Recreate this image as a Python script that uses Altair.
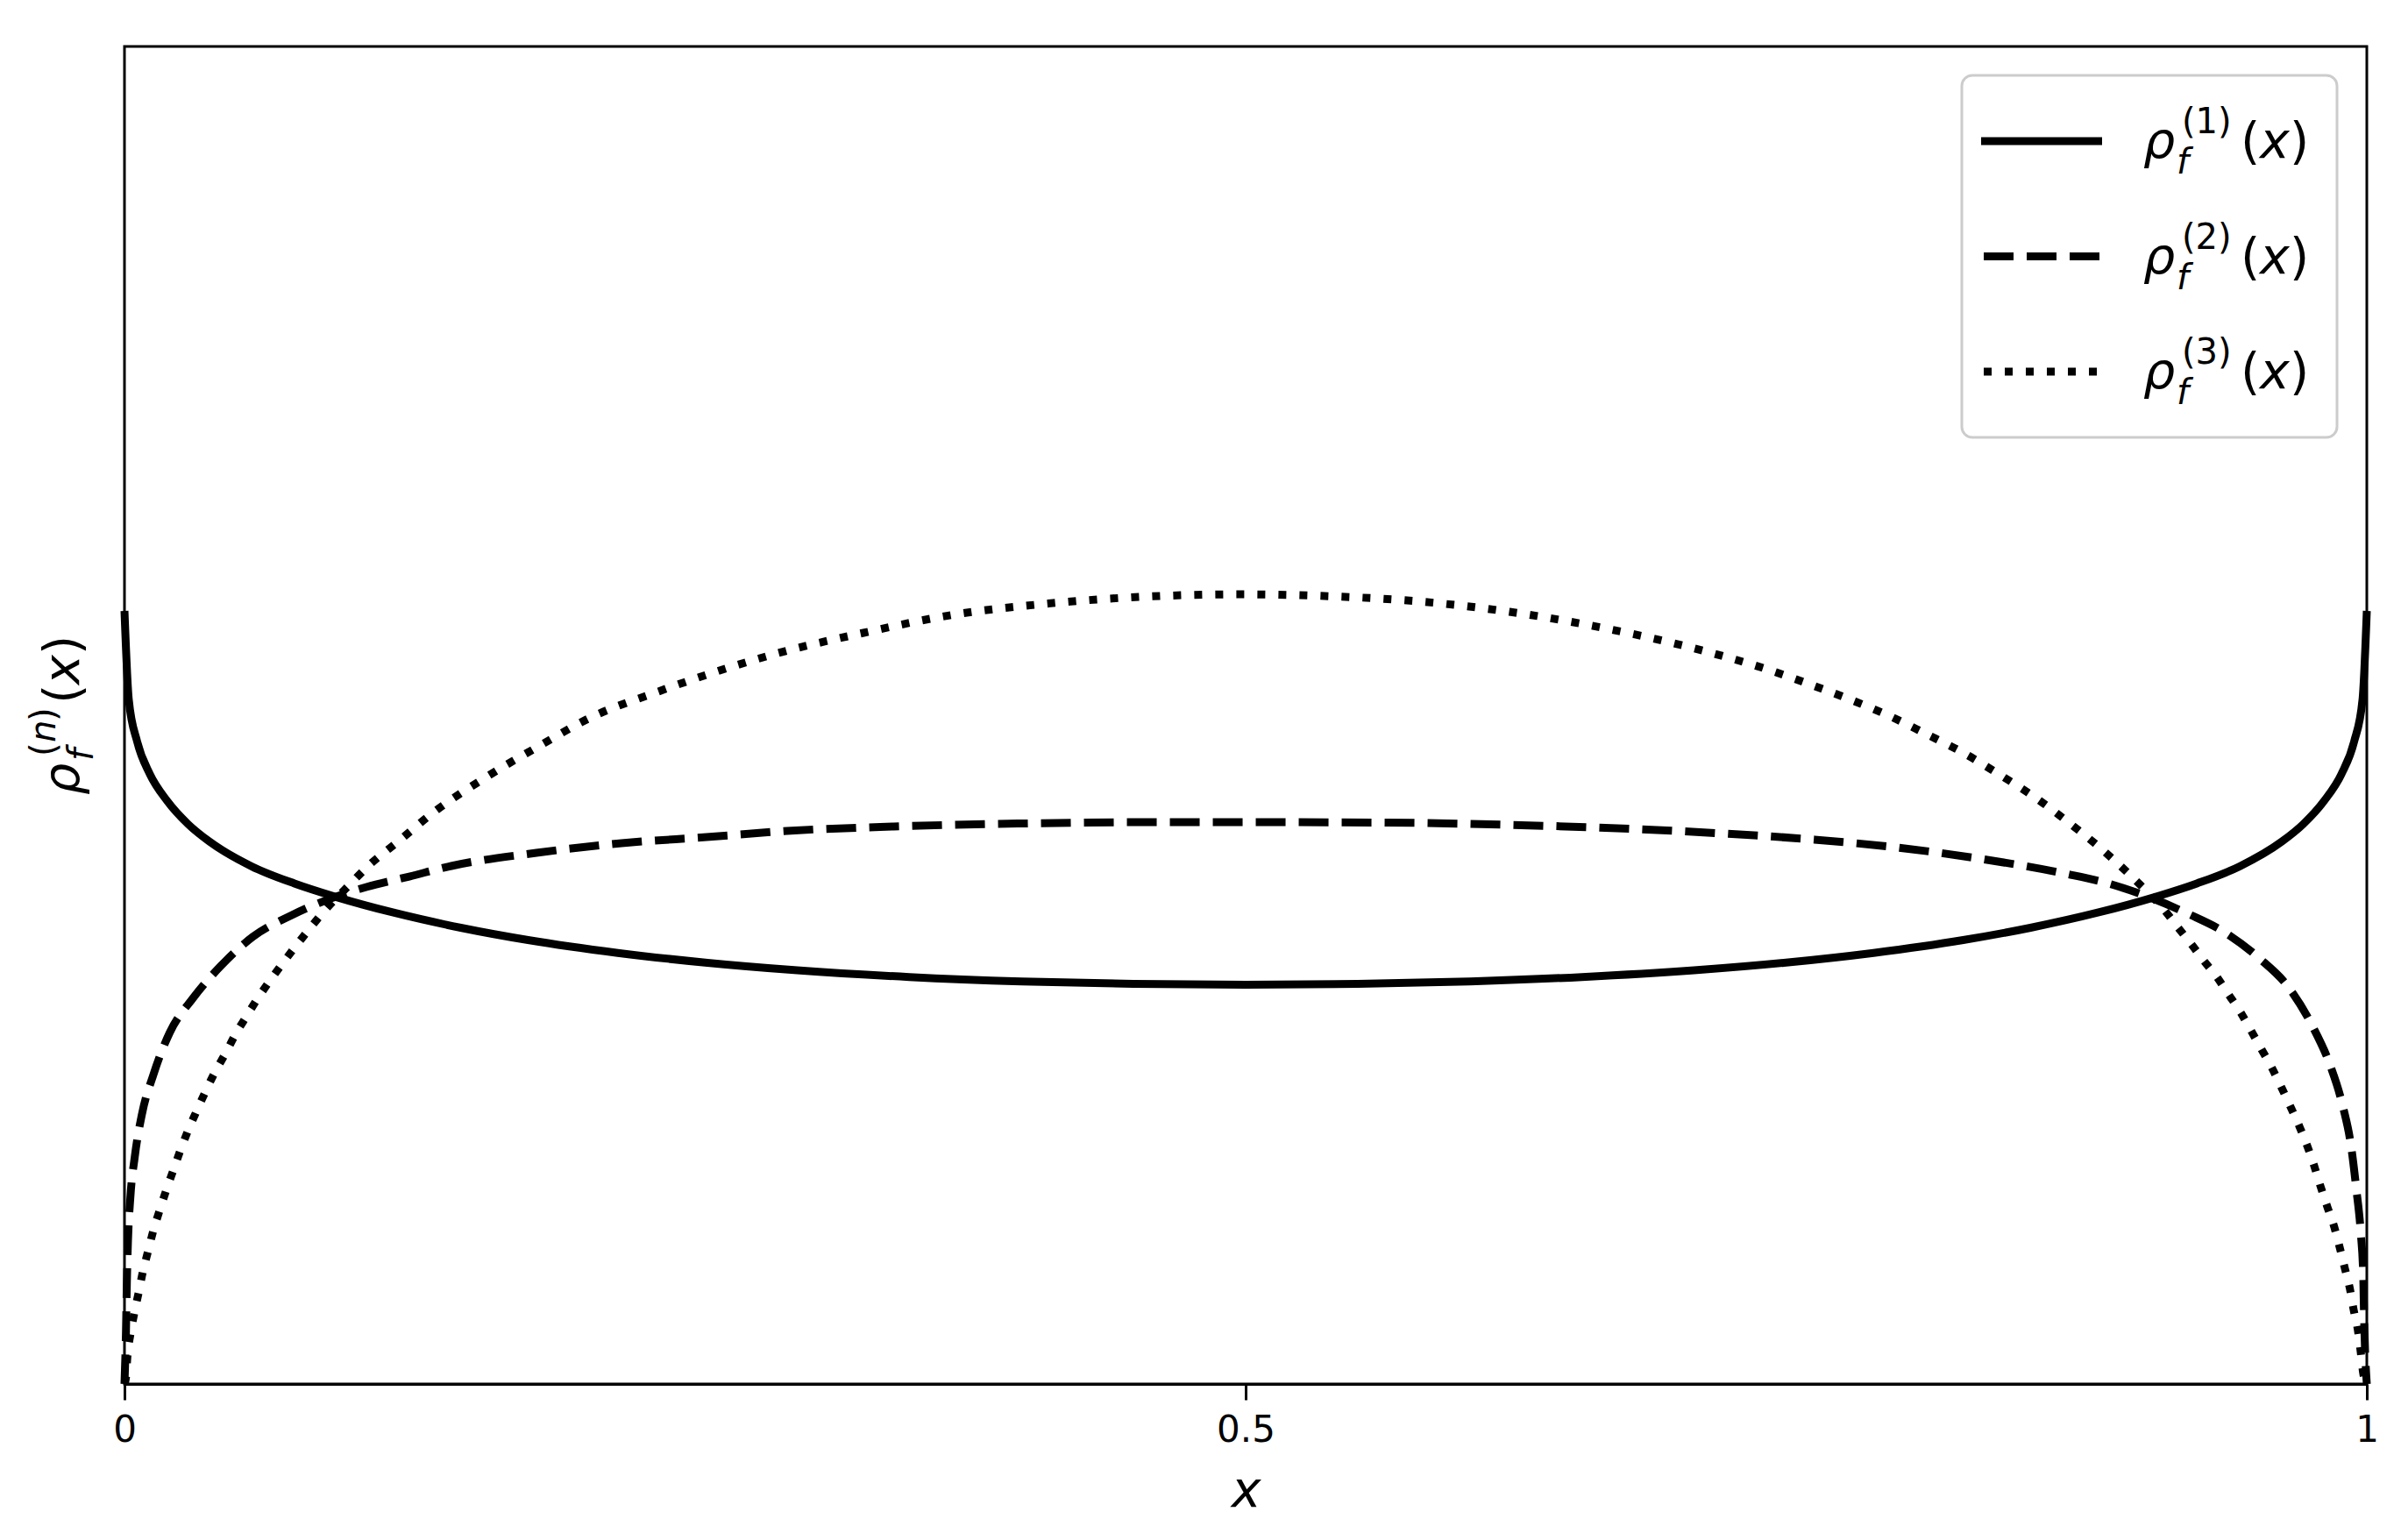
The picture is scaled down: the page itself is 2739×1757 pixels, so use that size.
import altair as alt
import pandas as pd

# rho_f^(1)(x)  (solid)
x1 = [0.0, 0.0019, 0.0057, 0.0113, 0.019, 0.0284, 0.0379, 0.0567, 0.0758, 0.095,
      0.12, 0.15, 0.18, 0.22, 0.26, 0.30, 0.35, 0.40, 0.45, 0.50,
      0.55, 0.60, 0.65, 0.70, 0.74, 0.78, 0.82, 0.85, 0.88, 0.905,
      0.9242, 0.9433, 0.9621, 0.9716, 0.981, 0.9887, 0.9943, 0.9981, 1.0]
y1 = [0.578, 0.512, 0.480, 0.456, 0.436, 0.4185, 0.4055, 0.3870, 0.3742, 0.3638,
      0.3524, 0.3411, 0.3319, 0.3223, 0.3149, 0.3093, 0.3043, 0.3010, 0.2991, 0.2985,
      0.2991, 0.3010, 0.3043, 0.3093, 0.3149, 0.3223, 0.3319, 0.3411, 0.3524, 0.3638,
      0.3742, 0.3870, 0.4055, 0.4185, 0.436, 0.456, 0.480, 0.512, 0.578]

# rho_f^(2)(x)  (dashed)
x2 = [0.0, 0.00066, 0.00106, 0.00156, 0.0026, 0.0046, 0.0078, 0.0129, 0.0202, 0.0305,
      0.043, 0.0573, 0.0743, 0.1079, 0.127, 0.1458, 0.1837, 0.2217, 0.2596, 0.2955,
      0.343, 0.3984, 0.453, 0.5078, 0.5627, 0.6177, 0.6724, 0.7135, 0.7537, 0.791,
      0.8284, 0.8659, 0.8847, 0.9207, 0.9375, 0.9519, 0.9656, 0.9758, 0.9836, 0.9891,
      0.993, 0.9953, 0.9973, 0.9984, 0.9988, 1.0]
y2 = [0.0, 0.0387, 0.0754, 0.1068, 0.139, 0.170, 0.2018, 0.2313, 0.2628, 0.2883,
      0.3126, 0.3344, 0.3503, 0.3716, 0.3794, 0.3873, 0.3971, 0.4043, 0.4089, 0.4135,
      0.4168, 0.419, 0.420, 0.420, 0.4197, 0.418, 0.415, 0.4115, 0.407, 0.401,
      0.3925, 0.3814, 0.3742, 0.3512, 0.3368, 0.3185, 0.2955, 0.2674, 0.2385, 0.209,
      0.1776, 0.146, 0.113, 0.0813, 0.0485, 0.0]

# rho_f^(3)(x)  (dotted)
x3 = [0.0, 0.00066, 0.0013, 0.0026, 0.0043, 0.0063, 0.0081, 0.0104, 0.0128, 0.0156,
      0.0186, 0.0218, 0.025, 0.0284, 0.0323, 0.0362, 0.0403, 0.045, 0.0493, 0.0543,
      0.0594, 0.0648, 0.0704, 0.0762, 0.0821, 0.0886, 0.1013, 0.1079, 0.1231, 0.1372,
      0.1611, 0.1857, 0.2084, 0.2369, 0.2654, 0.2916, 0.3296, 0.3706, 0.412, 0.4531,
      0.4984, 0.5352, 0.5766, 0.6177, 0.6587, 0.6861, 0.7135, 0.733, 0.7508, 0.7686,
      0.7864, 0.8032, 0.8202, 0.837, 0.8528, 0.8679, 0.8823, 0.8963, 0.9093, 0.9156,
      0.9214, 0.9273, 0.9332, 0.9382, 0.9437, 0.9484, 0.9531, 0.9578, 0.962, 0.966,
      0.9699, 0.9734, 0.9765, 0.9793, 0.9824, 0.9855, 0.9879, 0.9902, 0.9925, 0.9941,
      0.9961, 0.9973, 0.9984, 1.0]
y3 = [0.0, 0.0048, 0.0206, 0.0367, 0.0524, 0.0682, 0.0832, 0.0985, 0.1143, 0.1294,
      0.1448, 0.1599, 0.175, 0.1897, 0.2045, 0.2189, 0.233, 0.247, 0.2608, 0.2746,
      0.2883, 0.3014, 0.3142, 0.327, 0.3394, 0.3526, 0.3748, 0.386, 0.407, 0.4266,
      0.4535, 0.4777, 0.4987, 0.517, 0.5334, 0.5465, 0.5616, 0.5754, 0.5835, 0.5885,
      0.5904, 0.5891, 0.5852, 0.5773, 0.5655, 0.5557, 0.5439, 0.5341, 0.5236, 0.5124,
      0.5, 0.4862, 0.4718, 0.4548, 0.4377, 0.4187, 0.3991, 0.3775, 0.3552, 0.3417,
      0.3296, 0.3165, 0.3041, 0.2916, 0.2779, 0.2641, 0.25, 0.2359, 0.2215, 0.2071,
      0.1927, 0.1782, 0.1632, 0.1481, 0.1324, 0.1173, 0.1022, 0.0865, 0.0708, 0.0557,
      0.0393, 0.0236, 0.0079, 0.0]

x_ticks = [0, 0.5, 1]
series_n = ["1", "2", "3"]

W, H = 2558, 1526
LW = 9
DASHES = [None, [34, 15], [9, 15]]
FONT = "DejaVu Sans"

xenc = alt.X("x:Q", scale=alt.Scale(domain=[0, 1], nice=False),
             axis=alt.Axis(values=x_ticks, format="~g", labelFont=FONT, labelFontSize=42,
                           labelColor="black", labelPadding=14, labelFlush=False,
                           tickSize=18, tickWidth=3, tickColor="black",
                           domainColor="black", domainWidth=3, grid=False,
                           title="x", titleFont=FONT, titleFontStyle="italic",
                           titleFontWeight="normal", titleFontSize=57, titleColor="black",
                           titleX=W / 2, titleY=139, titleBaseline="alphabetic",
                           titleAlign="center"))
yenc = alt.Y("y:Q", scale=alt.Scale(domain=[0, 1], nice=False), axis=None)


def curve(xs, ys, dash):
    df = pd.DataFrame({"x": xs, "y": ys})
    kw = dict(color="black", strokeWidth=LW, interpolate="monotone", strokeCap="butt")
    if dash:
        kw["strokeDash"] = dash
    return alt.Chart(df).mark_line(**kw).encode(x=xenc, y=yenc)


one = pd.DataFrame({"k": [0]})


def txt(s, x, y, size, italic=False, angle=0):
    kw = dict(text=s, font=FONT, fontSize=size, align="left", baseline="alphabetic",
              color="black")
    if italic:
        kw["fontStyle"] = "italic"
    if angle:
        kw["angle"] = angle
    return alt.Chart(one).mark_text(**kw).encode(x=alt.value(x), y=alt.value(y))


layers = [curve(x1, y1, DASHES[0]), curve(x2, y2, DASHES[1]), curve(x3, y3, DASHES[2])]

# legend frame
layers.append(
    alt.Chart(one).mark_rect(fill="white", stroke="#cccccc", strokeWidth=3, cornerRadius=12)
    .encode(x=alt.value(2096), x2=alt.value(2524), y=alt.value(33), y2=alt.value(446))
)

for i, n in enumerate(series_n):
    ly = 108 + 131.5 * i
    base = 127 + 131.5 * i
    rkw = dict(color="black", strokeWidth=LW, strokeCap="butt")
    if DASHES[i]:
        rkw["strokeDash"] = DASHES[i]
    x_start = 2118 if i == 0 else 2121
    layers.append(alt.Chart(one).mark_rule(**rkw).encode(
        x=alt.value(x_start), x2=alt.value(2256), y=alt.value(ly)))
    layers.append(txt("ρ", 2303, base, 57, italic=True))
    layers.append(txt("f", 2341, base + 18, 40, italic=True))
    layers.append(txt("(" + n + ")", 2347, base - 28, 40))
    layers.append(txt("(", 2414, base, 57))
    layers.append(txt("x", 2436, base, 57, italic=True))
    layers.append(txt(")", 2470, base, 57))

# y-axis label rho_f^(n)(x), rotated
layers.append(txt("ρ", -52, 854, 57, italic=True, angle=270))
layers.append(txt("f", -36, 815, 40, italic=True, angle=270))
layers.append(txt("(", -79, 810, 40, angle=270))
layers.append(txt("n", -79, 794, 40, italic=True, angle=270))
layers.append(txt(")", -79, 770, 40, angle=270))
layers.append(txt("(", -52, 750, 57, angle=270))
layers.append(txt("x", -52, 728, 57, italic=True, angle=270))
layers.append(txt(")", -52, 694, 57, angle=270))

chart = alt.layer(*layers).properties(
    width=W, height=H,
    autosize=alt.AutoSizeParams(type="none"),
    padding={"left": 134, "top": 45, "right": 31, "bottom": 170},
    background="white",
).configure_view(stroke="black", strokeWidth=3)

chart.save("out.html", embed_options={"renderer": "svg", "actions": False})
